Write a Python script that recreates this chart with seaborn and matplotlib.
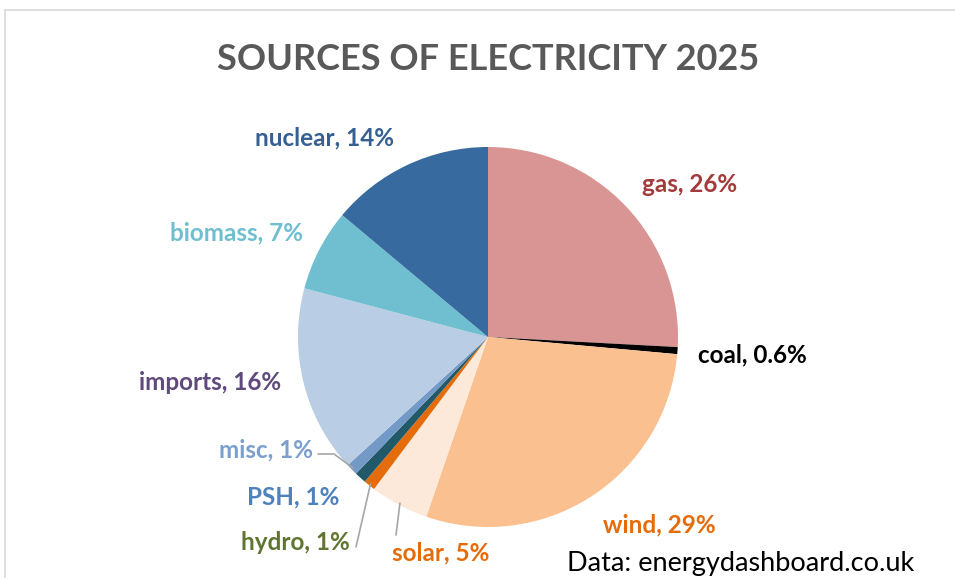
import matplotlib
matplotlib.use("Agg")
import matplotlib.pyplot as plt
import matplotlib.patches as mpatches
import numpy as np
import seaborn as sns

sns.set_theme(style="white")
plt.rcParams['font.family'] = ['Lato', 'DejaVu Sans']

# Data (clockwise from 12 o'clock)
sources = ["gas", "coal", "wind", "solar", "hydro", "PSH", "misc", "imports", "biomass", "nuclear"]
shares = [26, 0.6, 29, 5, 1, 1, 1, 16, 7, 14]
labels = ["gas, 26%", "coal, 0.6%", "wind, 29%", "solar, 5%", "hydro, 1%",
          "PSH, 1%", "misc, 1%", "imports, 16%", "biomass, 7%", "nuclear, 14%"]

slice_colors = ["#D99594", "#000000", "#FAC090", "#FDE9D9", "#E46C0A",
                "#215968", "#7399C6", "#B9CDE5", "#70BFD1", "#376A9E"]
label_colors = ["#A33B3A", "#000000", "#E46C0A", "#E46C0A", "#5F7530",
                "#4F81BD", "#7BA0CD", "#604A7B", "#70BFD1", "#376092"]

W, H = 955, 578
fig = plt.figure(figsize=(W / 100, H / 100), dpi=100)
ax = fig.add_axes([0, 0, 1, 1])

def px(x, y):
    return x, H - y

# chart frame
fig.patches.append(mpatches.Rectangle((5 / W, -0.1), 1.2, 1.1 - 10 / H, transform=fig.transFigure,
                                      fill=False, edgecolor="#D9D9D9", linewidth=1.2))

center = px(488, 337)
radius = 190
wedges, _ = ax.pie(shares, colors=slice_colors, startangle=90, counterclock=False,
                   center=center, radius=radius, frame=True,
                   wedgeprops=dict(linewidth=0))
ax.set_xlim(0, W)
ax.set_ylim(0, H)
ax.set_aspect("equal")
ax.axis("off")

# label placement (text center, pixel coords)
label_pos = {
    "gas": (690, 185), "coal": (752, 355), "wind": (659, 525), "solar": (441, 553),
    "hydro": (295, 543), "PSH": (293, 497), "misc": (266, 450), "imports": (210, 382),
    "biomass": (236, 233), "nuclear": (324, 138),
}
for name, lab, col in zip(sources, labels, label_colors):
    x, y = px(*label_pos[name])
    ax.text(x, y, lab, color=col, fontsize=17.5, fontweight="bold", ha="center", va="center")

# leader lines for small slices
leaders = {"misc": (318, 454), "hydro": (356, 547), "solar": (396, 535)}
for name, (lx, ly) in leaders.items():
    w = wedges[sources.index(name)]
    ang = np.deg2rad((w.theta1 + w.theta2) / 2)
    ex = center[0] + radius * 0.99 * np.cos(ang)
    ey = center[1] + radius * 0.99 * np.sin(ang)
    sx, sy = px(lx, ly)
    if name == "misc":
        ax.plot([sx, sx + 16, ex], [sy, sy, ey], color="#A6A6A6", lw=1.2)
    else:
        ax.plot([sx, ex], [sy, ey], color="#A6A6A6", lw=1.2)

ax.text(*px(488, 60), "SOURCES OF ELECTRICITY 2025", color="#595959", fontsize=26,
        fontweight="bold", ha="center", va="center")
ax.text(*px(567, 563), "Data: energydashboard.co.uk", color="#000000", fontsize=19.5,
        ha="left", va="center")

fig.savefig("out.png", dpi=100)
